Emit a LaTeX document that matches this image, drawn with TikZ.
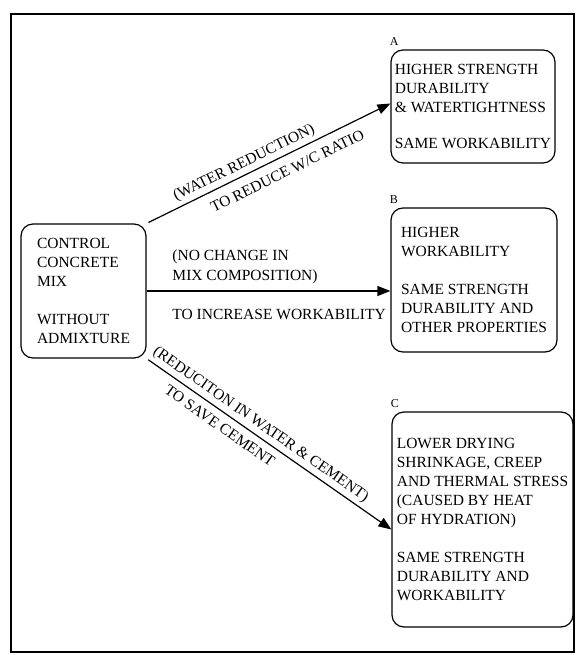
\documentclass[tikz,border=0pt]{standalone}
\usepackage{fontspec}
\setmainfont{Liberation Serif}
\usetikzlibrary{arrows.meta,positioning}
\begin{document}
\begin{tikzpicture}[x=1pt,y=-1pt,
    box/.style={draw,line width=1.2pt,rounded corners=12pt,align=left,inner sep=0pt,font=\fontsize{15.5}{19}\selectfont},
    lab/.style={font=\fontsize{15.5}{20}\selectfont},
    tag/.style={font=\fontsize{12}{14}\selectfont,anchor=south west,xshift=-4pt},
    arr/.style={line width=1.2pt,-{Triangle[length=13pt,width=10pt]}}]
\useasboundingbox (0,0) rectangle (577,655);
\draw[line width=1.2pt] (11,14) rectangle (574,652);
\node[box,minimum width=125pt,minimum height=134pt] (ctrl) at (83.5,291) {CONTROL\\CONCRETE\\MIX\\[19pt]WITHOUT\\ADMIXTURE};
\node[box,minimum width=164pt,minimum height=113pt] (boxA) at (473,106.5) {HIGHER STRENGTH\\DURABILITY\\\& WATERTIGHTNESS\\[17pt]SAME WORKABILITY};
\node[box,minimum width=166pt,minimum height=144pt] (boxB) at (474,280) {HIGHER\\WORKABILITY\\[19pt]SAME STRENGTH\\DURABILITY AND\\OTHER PROPERTIES};
\node[box,minimum width=181pt,minimum height=215pt] (boxC) at (482.5,519.5) {LOWER DRYING\\SHRINKAGE, CREEP\\AND THERMAL STRESS\\(CAUSED BY HEAT\\OF HYDRATION)\\[19pt]SAME STRENGTH\\DURABILITY AND\\WORKABILITY};
\node[tag] (tagA) at (boxA.north west) {A};
\node[tag] (tagB) at (boxB.north west) {B};
\node[tag] (tagC) at (boxC.north west) {C};
\draw[arr,shorten <=2pt] (ctrl.north east) -- ([yshift=3pt]boxA.west)
    node[lab,sloped,pos=0.42,above] {(WATER REDUCTION)}
    node[lab,sloped,pos=0.55,below=6pt] {TO REDUCE W/C RATIO};
\draw[arr] (ctrl.east) -- (ctrl.east -| boxB.west)
    node[lab,pos=0.09,anchor=south west,align=left,yshift=3pt] {(NO CHANGE IN\\MIX COMPOSITION)}
    node[lab,pos=0.09,anchor=north west,yshift=-14pt] {TO INCREASE WORKABILITY};
\draw[arr,shorten <=2pt] (ctrl.south east) -- ([yshift=-10pt]boxC.west)
    node[lab,sloped,pos=0.44,above] {(REDUCITON IN WATER \& CEMENT)}
    node[lab,sloped,pos=0.33,below=4pt] {TO SAVE CEMENT};
\end{tikzpicture}
\end{document}
